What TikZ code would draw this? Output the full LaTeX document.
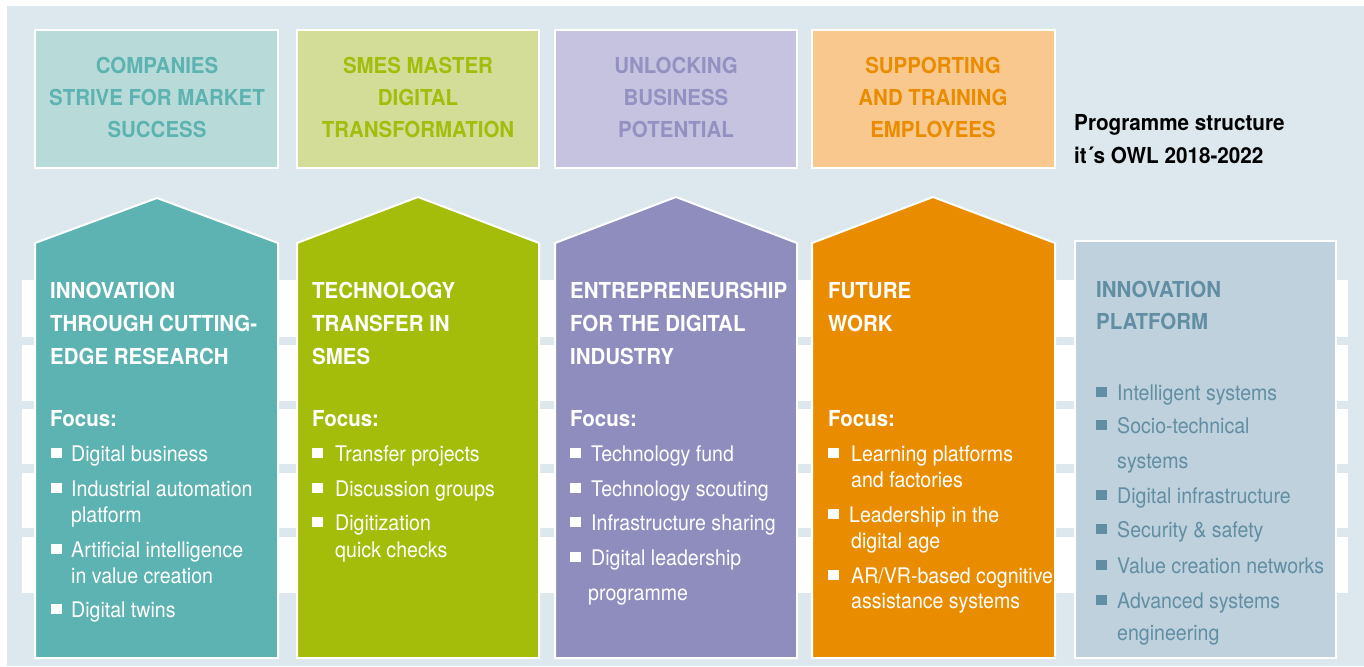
\documentclass[tikz,border=0pt]{standalone}
\usepackage{fontspec}
\setmainfont{TeX Gyre Heros}[FakeStretch=0.91]
\newfontfamily\hdfont{TeX Gyre Heros}[FakeStretch=0.93]
\newfontfamily\ttlfont{TeX Gyre Heros}[FakeStretch=0.94]
\definecolor{bgc}{HTML}{DCE7EE}
\definecolor{tealD}{HTML}{5DB3B1}
\definecolor{tealL}{HTML}{B8DBD9}
\definecolor{greenD}{HTML}{A3BD0A}
\definecolor{greenL}{HTML}{D3DD98}
\definecolor{purD}{HTML}{8F8DBE}
\definecolor{purL}{HTML}{C5C3DF}
\definecolor{purT}{HTML}{9391C1}
\definecolor{orD}{HTML}{EA8C00}
\definecolor{orL}{HTML}{F9C88E}
\definecolor{platF}{HTML}{BFD1DD}
\definecolor{platT}{HTML}{628EA3}
\tikzset{
  boxshape/.style={draw=white, line width=2pt},
  tophd/.style={anchor=base, inner sep=0pt, font=\hdfont\bfseries\fontsize{22}{26}\selectfont},
  colhd/.style={anchor=base west, inner sep=0pt, font=\hdfont\bfseries\fontsize{22}{26}\selectfont, text=white},
  itm/.style={anchor=base west, inner sep=0pt, font=\fontsize{21.5}{26}\selectfont, text=white},
  ttl/.style={anchor=base west, inner sep=0pt, font=\ttlfont\bfseries\fontsize{22}{26}\selectfont, text=black},
}
\newcommand\bulsq[3]{\fill[#3] (#1,#2-13) rectangle (#1+11,#2-3);}
\begin{document}
\begin{tikzpicture}[x=1pt,y=-1pt]
\useasboundingbox (0,0) rectangle (1364,666);
\fill[bgc] (7,6) rectangle (1364,666);
\foreach \a/\b in {280/337,345/401,409/464,473/528,537/593}
  \fill[white] (22,\a) rectangle (1348,\b);
% top boxes
\draw[boxshape, fill=tealL] (35,30) rectangle (278,168);
\draw[boxshape, fill=greenL] (297,30) rectangle (539,168);
\draw[boxshape, fill=purL] (555,30) rectangle (797,168);
\draw[boxshape, fill=orL] (812,30) rectangle (1055,168);
% columns
\draw[boxshape, fill=tealD] (35,658) -- (35,243) -- (157,198) -- (278,243) -- (278,658) -- cycle;
\draw[boxshape, fill=greenD] (297,658) -- (297,243) -- (418,197) -- (539,243) -- (539,658) -- cycle;
\draw[boxshape, fill=purD] (555,658) -- (555,243) -- (676,197) -- (797,243) -- (797,658) -- cycle;
\draw[boxshape, fill=orD] (812,658) -- (812,243) -- (933,197) -- (1055,243) -- (1055,658) -- cycle;
\draw[boxshape, fill=platF] (1075,241) rectangle (1336,658);
% top box texts
\node[tophd, text=tealD] (t1a) at (157,74) {COMPANIES};
\node[tophd, text=tealD] (t1b) at (157,106) {STRIVE FOR MARKET};
\node[tophd, text=tealD] (t1c) at (157,138) {SUCCESS};
\node[tophd, text=greenD] (t2a) at (418,74) {SMES MASTER};
\node[tophd, text=greenD] (t2b) at (418,106) {DIGITAL};
\node[tophd, text=greenD] (t2c) at (418,138) {TRANSFORMATION};
\node[tophd, text=purT] (t3a) at (676,74) {UNLOCKING};
\node[tophd, text=purT] (t3b) at (676,106) {BUSINESS};
\node[tophd, text=purT] (t3c) at (676,138) {POTENTIAL};
\node[tophd, text=orD] (t4a) at (933,74) {SUPPORTING};
\node[tophd, text=orD] (t4b) at (933,106) {AND TRAINING};
\node[tophd, text=orD] (t4c) at (933,138) {EMPLOYEES};
% title
\node[ttl] (ti1) at (1074,130) {Programme structure};
\node[ttl] (ti2) at (1074,163) {it´s OWL 2018-2022};
% column 1
\node[colhd] (h1a) at (50,298) {INNOVATION};
\node[colhd] (h1b) at (50,331) {THROUGH CUTTING-};
\node[colhd] (h1c) at (50,364) {EDGE RESEARCH};
\node[colhd] (f1) at (50,426) {Focus:};
\bulsq{51}{461}{white}
\node[itm] (i1a) at (71,461) {Digital business};
\bulsq{51}{496}{white}
\node[itm] (i1b) at (71,496) {Industrial automation};
\node[itm] (i1c) at (71,522) {platform};
\bulsq{51}{557}{white}
\node[itm] (i1d) at (71,557) {Artificial intelligence};
\node[itm] (i1e) at (71,583) {in value creation};
\bulsq{51}{617}{white}
\node[itm] (i1f) at (71,617) {Digital twins};
% column 2
\node[colhd] (h2a) at (312,298) {TECHNOLOGY};
\node[colhd] (h2b) at (312,331) {TRANSFER IN};
\node[colhd] (h2c) at (312,364) {SMES};
\node[colhd] (f2) at (312,426) {Focus:};
\bulsq{312}{461}{white}
\node[itm] (i2a) at (335,461) {Transfer projects};
\bulsq{312}{496}{white}
\node[itm] (i2b) at (335,496) {Discussion groups};
\bulsq{312}{530}{white}
\node[itm] (i2c) at (335,530) {Digitization};
\node[itm] (i2d) at (335,557) {quick checks};
% column 3
\node[colhd] (h3a) at (570,298) {ENTREPRENEURSHIP};
\node[colhd] (h3b) at (570,331) {FOR THE DIGITAL};
\node[colhd] (h3c) at (570,364) {INDUSTRY};
\node[colhd] (f3) at (570,426) {Focus:};
\bulsq{570}{461}{white}
\node[itm] (i3a) at (591,461) {Technology fund};
\bulsq{570}{496}{white}
\node[itm] (i3b) at (591,496) {Technology scouting};
\bulsq{570}{530}{white}
\node[itm] (i3c) at (591,530) {Infrastructure sharing};
\bulsq{570}{565}{white}
\node[itm] (i3d) at (591,565) {Digital leadership};
\node[itm] (i3e) at (588,600) {programme};
% column 4
\node[colhd] (h4a) at (828,298) {FUTURE};
\node[colhd] (h4b) at (828,331) {WORK};
\node[colhd] (f4) at (828,426) {Focus:};
\bulsq{828}{461}{white}
\node[itm] (i4a) at (851,461) {Learning platforms};
\node[itm] (i4b) at (851,487) {and factories};
\bulsq{828}{522}{white}
\node[itm] (i4c) at (849,522) {Leadership in the};
\node[itm] (i4d) at (851,548) {digital age};
\bulsq{828}{583}{white}
\node[itm] (i4e) at (851,583) {AR/VR-based cognitive};
\node[itm] (i4f) at (851,608) {assistance systems};
% platform
\node[colhd, text=platT] (h5a) at (1096,297) {INNOVATION};
\node[colhd, text=platT] (h5b) at (1096,329) {PLATFORM};
\bulsq{1096}{400}{platT}
\node[itm, text=platT] (i5a) at (1117,400) {Intelligent systems};
\bulsq{1096}{433}{platT}
\node[itm, text=platT] (i5b) at (1117,433) {Socio-technical};
\node[itm, text=platT] (i5c) at (1117,468) {systems};
\bulsq{1096}{503}{platT}
\node[itm, text=platT] (i5d) at (1117,503) {Digital infrastructure};
\bulsq{1096}{537}{platT}
\node[itm, text=platT] (i5e) at (1117,537) {Security \& safety};
\bulsq{1096}{573}{platT}
\node[itm, text=platT] (i5f) at (1117,573) {Value creation networks};
\bulsq{1096}{608}{platT}
\node[itm, text=platT] (i5g) at (1117,608) {Advanced systems};
\node[itm, text=platT] (i5h) at (1117,640) {engineering};
\end{tikzpicture}
\end{document}
